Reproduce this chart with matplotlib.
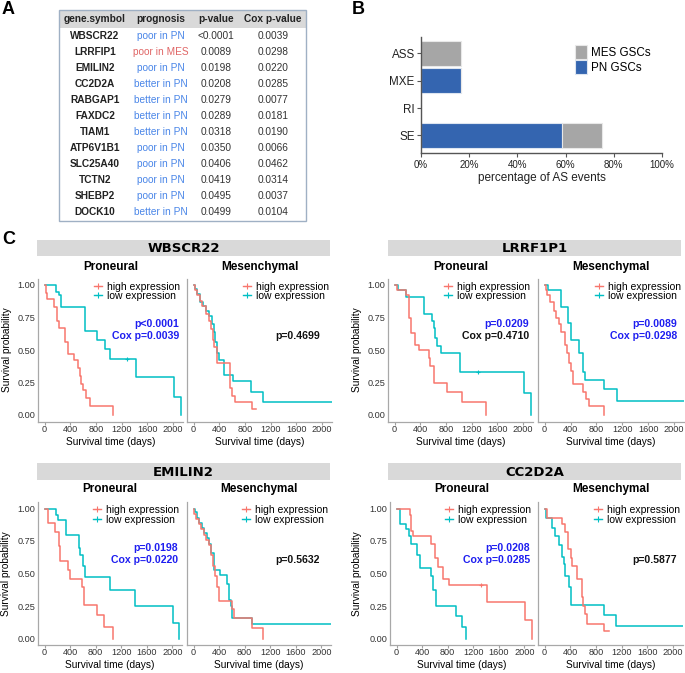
import matplotlib
matplotlib.use("Agg")
import matplotlib.pyplot as plt
from matplotlib.patches import Rectangle
from matplotlib.lines import Line2D
from matplotlib.ticker import PercentFormatter
import numpy as np

plt.rcParams['font.family'] = ['Liberation Sans', 'DejaVu Sans']

W, H = 685, 673

# ---------------- panel A : table
genes = ['WBSCR22', 'LRRFIP1', 'EMILIN2', 'CC2D2A', 'RABGAP1', 'FAXDC2', 'TIAM1',
         'ATP6V1B1', 'SLC25A40', 'TCTN2', 'SHEBP2', 'DOCK10']
prognosis = ['poor in PN', 'poor in MES', 'poor in PN', 'better in PN', 'better in PN',
             'better in PN', 'better in PN', 'poor in PN', 'poor in PN', 'poor in PN',
             'poor in PN', 'better in PN']
pvalues = ['<0.0001', '0.0089', '0.0198', '0.0208', '0.0279', '0.0289', '0.0318',
           '0.0350', '0.0406', '0.0419', '0.0495', '0.0499']
cox_pvalues = ['0.0039', '0.0298', '0.0220', '0.0285', '0.0077', '0.0181', '0.0190',
               '0.0066', '0.0462', '0.0314', '0.0037', '0.0104']
table_header = ['gene.symbol', 'prognosis', 'p-value', 'Cox p-value']

# ---------------- panel B : AS events (bottom to top)
as_types = ['SE', 'RI', 'MXE', 'ASS']
pn_pct = [58.3, 0, 16.7, 0]
mes_pct = [16.7, 0, 0, 16.7]

# ---------------- panel C : Kaplan-Meier steps (days, survival)
wbscr22_pn_high_t = [0, 15, 40, 140, 200, 230, 320, 360, 460, 520, 550, 570, 600, 650, 700, 1060]
wbscr22_pn_high_s = [1, .94, .89, .83, .72, .67, .56, .47, .42, .36, .30, .24, .19, .13, .07, 0]
wbscr22_pn_low_t = [0, 180, 222, 253, 630, 822, 940, 1018, 1416, 2010, 2120]
wbscr22_pn_low_s = [1, .95, .92, .83, .65, .58, .51, .43, .29, .14, 0]
wbscr22_mes_high_t = [0, 20, 50, 100, 130, 200, 235, 270, 295, 320, 360, 560, 595, 645, 905, 970]
wbscr22_mes_high_s = [1, .96, .92, .88, .84, .78, .72, .66, .58, .52, .40, .21, .15, .10, .05, .05]
wbscr22_mes_low_t = [0, 20, 50, 100, 140, 190, 240, 280, 310, 340, 370, 390, 475, 610, 890, 1085, 2150]
wbscr22_mes_low_s = [1, .97, .93, .87, .84, .80, .76, .70, .64, .56, .48, .42, .31, .26, .18, .10, .10]

lrrf1p1_pn_high_t = [0, 40, 180, 220, 255, 320, 385, 530, 555, 620, 815, 1055, 1415]
lrrf1p1_pn_high_s = [1, .96, .92, .75, .63, .54, .50, .44, .38, .25, .18, .10, 0]
lrrf1p1_pn_low_t = [0, 50, 180, 465, 575, 610, 630, 660, 720, 1020, 2010, 2115]
lrrf1p1_pn_low_s = [1, .96, .91, .78, .72, .67, .59, .53, .48, .33, .17, 0]
lrrf1p1_mes_high_t = [0, 15, 40, 90, 145, 170, 220, 250, 320, 350, 380, 410, 440, 595, 635, 680, 920]
lrrf1p1_mes_high_s = [1, .96, .92, .87, .80, .75, .70, .64, .54, .48, .40, .34, .24, .18, .12, .07, 0]
lrrf1p1_mes_low_t = [0, 50, 250, 365, 400, 530, 590, 620, 920, 1110, 2150]
lrrf1p1_mes_low_s = [1, .96, .83, .71, .58, .48, .33, .27, .20, .11, .11]

emilin2_pn_high_t = [0, 60, 165, 220, 245, 375, 400, 580, 620, 815, 930, 1075]
emilin2_pn_high_s = [1, .89, .82, .71, .60, .53, .46, .40, .26, .18, .09, 0]
emilin2_pn_low_t = [0, 180, 215, 340, 535, 560, 600, 635, 1020, 1410, 2010, 2110]
emilin2_pn_low_s = [1, .95, .91, .80, .70, .64, .56, .47, .37, .25, .12, 0]
emilin2_mes_high_t = [0, 15, 45, 80, 120, 160, 200, 240, 280, 310, 340, 360, 400, 610, 635, 915, 1085]
emilin2_mes_high_s = [1, .96, .92, .88, .84, .80, .76, .72, .64, .56, .48, .40, .29, .23, .16, .08, 0]
emilin2_mes_low_t = [0, 20, 50, 90, 130, 170, 210, 250, 280, 320, 410, 520, 550, 580, 610, 920, 2150]
emilin2_mes_low_s = [1, .97, .93, .89, .85, .81, .77, .73, .66, .53, .49, .42, .30, .25, .16, .11, .11]

cc2d2a_pn_high_t = [0, 205, 230, 260, 540, 610, 645, 720, 825, 1420, 2010, 2115]
cc2d2a_pn_high_s = [1, .95, .83, .79, .73, .62, .55, .46, .41, .28, .14, 0]
cc2d2a_pn_low_t = [0, 50, 155, 195, 230, 325, 360, 540, 575, 620, 930, 1030, 1080]
cc2d2a_pn_low_s = [1, .88, .84, .79, .73, .64, .54, .48, .37, .25, .17, .09, 0]
cc2d2a_mes_high_t = [0, 40, 265, 325, 370, 405, 430, 510, 575, 595, 625, 660, 920, 1000]
cc2d2a_mes_high_s = [1, .93, .88, .82, .69, .62, .56, .46, .32, .25, .19, .11, .06, .06]
cc2d2a_mes_low_t = [0, 30, 120, 170, 220, 265, 300, 325, 380, 405, 920, 1115, 2150]
cc2d2a_mes_low_s = [1, .93, .85, .79, .72, .63, .57, .48, .40, .26, .18, .10, .10]

# censored times that show a "+" mark
wbscr22_pn_low_cens = [1280]
lrrf1p1_pn_low_cens = [1300]
cc2d2a_pn_high_cens = [1330]

RED = '#F8766D'
CYAN = '#00BFC4'
PBLUE = '#1E1EF0'
PBLACK = '#111111'

fig = plt.figure(figsize=(W / 100, H / 100), dpi=100)


def fax(x0, y0, x1, y1):
    return fig.add_axes([x0 / W, 1 - y1 / H, (x1 - x0) / W, (y1 - y0) / H])


# overlay axes in pixel coordinates for table, strips and labels
ov = fig.add_axes([0, 0, 1, 1])
ov.set_xlim(0, W)
ov.set_ylim(H, 0)
ov.axis('off')
ov.patch.set_alpha(0)

# panel letters
for lab, x, y in [('A', 2, 1), ('B', 352, 1), ('C', 2, 231)]:
    ov.text(x, y, lab, fontsize=13, fontweight='bold', ha='left', va='top')

# ---------------- table
ov.add_patch(Rectangle((59, 11), 247, 17, facecolor='#d9d9d9', edgecolor='none'))
ov.add_patch(Rectangle((59, 10), 247, 211, facecolor='none', edgecolor='#9fb0c4', lw=1))
col_x = [95, 161, 216, 273]
for cx, hd in zip(col_x, table_header):
    ov.text(cx, 19.5, hd, fontsize=7.3, fontweight='bold', ha='center', va='center', color='#222222')
for i in range(len(genes)):
    y = 36 + i * 16
    pcol = '#E06666' if 'MES' in prognosis[i] else '#4A86E8'
    ov.text(col_x[0], y, genes[i], fontsize=7.3, fontweight='bold', ha='center', va='center', color='#222222')
    ov.text(col_x[1], y, prognosis[i], fontsize=7.3, ha='center', va='center', color=pcol)
    ov.text(col_x[2], y, pvalues[i], fontsize=7.3, ha='center', va='center', color='#333333')
    ov.text(col_x[3], y, cox_pvalues[i], fontsize=7.3, ha='center', va='center', color='#333333')

# ---------------- panel B
axb = fax(421, 37, 662, 153)
yy = np.arange(len(as_types))
axb.barh(yy, pn_pct, height=0.9, color='#3465B0', edgecolor='#dde5f0', lw=0.8, label='PN GSCs')
axb.barh(yy, mes_pct, left=pn_pct, height=0.9, color='#A6A6A6', edgecolor='#e8e8e8', lw=0.8,
         label='MES GSCs')
axb.set_xlim(0, 100)
axb.set_ylim(-0.64, 3.6)
axb.set_yticks(yy)
axb.set_yticklabels(as_types, fontsize=8.4)
axb.set_xticks(np.arange(0, 101, 20))
axb.xaxis.set_major_formatter(PercentFormatter(decimals=0))
axb.tick_params(axis='x', labelsize=7, length=3, pad=2, color='#555555', labelcolor='#222222')
axb.tick_params(axis='y', length=3, pad=1.5, color='#555555', labelcolor='#222222')
for sp in ['top', 'right']:
    axb.spines[sp].set_visible(False)
for sp in ['left', 'bottom']:
    axb.spines[sp].set_color('#555555')
    axb.spines[sp].set_linewidth(1)
axb.set_xlabel('percentage of AS events', fontsize=8.5, labelpad=1.5, color='#222222')
h, l = axb.get_legend_handles_labels()
axb.legend(h[::-1], l[::-1], loc='upper left', bbox_to_anchor=((575 - 421) / 241, 1 - 8 / 116),
           frameon=False, fontsize=8.4, handlelength=1.0, handleheight=1.5, labelspacing=0.05,
           handletextpad=0.4, borderpad=0, borderaxespad=0)

# ---------------- panel C


def km(ax, t, s, color, cens=()):
    ax.step(t, s, where='post', color=color, lw=1.1)
    if len(cens):
        idx = np.searchsorted(t, cens, side='right') - 1
        ax.plot(cens, np.array(s)[idx], '+', color=color, ms=3.5, mew=0.8)


blocks = [
    dict(gene='WBSCR22', left=(38, 183), right=(187, 332), yr=(278.5, 421.5), strip=(37, 330, 240, 256),
         sub_y=267, ylab_x=7,
         pn=(wbscr22_pn_high_t, wbscr22_pn_high_s, wbscr22_pn_low_t, wbscr22_pn_low_s, [], wbscr22_pn_low_cens),
         mes=(wbscr22_mes_high_t, wbscr22_mes_high_s, wbscr22_mes_low_t, wbscr22_mes_low_s, [], []),
         pn_txt=[('p<0.0001', PBLUE), ('Cox p=0.0039', PBLUE)], pn_x=0.972,
         mes_txt=[None, ('p=0.4699', PBLACK)], mes_x=0.92),
    dict(gene='LRRF1P1', left=(388, 533), right=(538, 684), yr=(278.5, 421.5), strip=(388, 681, 240, 256),
         sub_y=267, ylab_x=357,
         pn=(lrrf1p1_pn_high_t, lrrf1p1_pn_high_s, lrrf1p1_pn_low_t, lrrf1p1_pn_low_s, [], lrrf1p1_pn_low_cens),
         mes=(lrrf1p1_mes_high_t, lrrf1p1_mes_high_s, lrrf1p1_mes_low_t, lrrf1p1_mes_low_s, [], []),
         pn_txt=[('p=0.0209', PBLUE), ('Cox p=0.4710', PBLACK)], pn_x=0.972,
         mes_txt=[('p=0.0089', PBLUE), ('Cox p=0.0298', PBLUE)], mes_x=0.952),
    dict(gene='EMILIN2', left=(38, 182), right=(187, 331), yr=(502, 645), strip=(37, 330, 463, 480),
         sub_y=489, ylab_x=6,
         pn=(emilin2_pn_high_t, emilin2_pn_high_s, emilin2_pn_low_t, emilin2_pn_low_s, [], []),
         mes=(emilin2_mes_high_t, emilin2_mes_high_s, emilin2_mes_low_t, emilin2_mes_low_s, [], []),
         pn_txt=[('p=0.0198', PBLUE), ('Cox p=0.0220', PBLUE)], pn_x=0.972,
         mes_txt=[None, ('p=0.5632', PBLACK)], mes_x=0.92),
    dict(gene='CC2D2A', left=(390, 534), right=(538, 683), yr=(502, 645), strip=(388, 681, 463, 480),
         sub_y=489, ylab_x=357,
         pn=(cc2d2a_pn_high_t, cc2d2a_pn_high_s, cc2d2a_pn_low_t, cc2d2a_pn_low_s, cc2d2a_pn_high_cens, []),
         mes=(cc2d2a_mes_high_t, cc2d2a_mes_high_s, cc2d2a_mes_low_t, cc2d2a_mes_low_s, [], []),
         pn_txt=[('p=0.0208', PBLUE), ('Cox p=0.0285', PBLUE)], pn_x=0.972,
         mes_txt=[None, ('p=0.5877', PBLACK)], mes_x=0.96),
]

leg_handles = [Line2D([], [], color=RED, marker='+', lw=1, ms=4, mew=0.8),
               Line2D([], [], color=CYAN, marker='+', lw=1, ms=4, mew=0.8)]

for b in blocks:
    x0, x1, y0, y1 = b['strip']
    ov.add_patch(Rectangle((x0, y0), x1 - x0, y1 - y0, facecolor='#d9d9d9', edgecolor='none'))
    ov.text((x0 + x1) / 2, (y0 + y1) / 2 + 0.5, b['gene'], family='DejaVu Sans', fontweight='bold',
            fontsize=9.5, ha='center', va='center')
    ytop, ybot = b['yr']
    ov.text(b['ylab_x'], (ytop + ybot) / 2, 'Survival probability', rotation=90, fontsize=7.3,
            ha='center', va='center')
    for key, side, title, txt, tx in [('pn', 'left', 'Proneural', 'pn_txt', 'pn_x'),
                                      ('mes', 'right', 'Mesenchymal', 'mes_txt', 'mes_x')]:
        ax0, ax1 = b[side]
        ax = fax(ax0, ytop, ax1, ybot)
        ht, hs, lt, ls, hc, lc = b[key]
        km(ax, lt, ls, CYAN, lc)
        km(ax, ht, hs, RED, hc)
        ax.set_xlim(-102, 2152)
        ax.set_ylim(-0.05, 1.05)
        ax.set_xticks(np.arange(0, 2001, 400))
        ax.set_yticks([0, 0.25, 0.5, 0.75, 1.0])
        if side == 'left':
            ax.set_yticklabels(['0.00', '0.25', '0.50', '0.75', '1.00'])
        else:
            ax.set_yticklabels([])
        ax.tick_params(axis='x', labelsize=6.6, length=1.8, pad=0.6, color='#a0a0a0', labelcolor='#333333')
        ax.tick_params(axis='y', labelsize=6.6, length=0, pad=2, labelcolor='#333333')
        for sp in ['top', 'right']:
            ax.spines[sp].set_visible(False)
        for sp in ['left', 'bottom']:
            ax.spines[sp].set_color('#a8a8a8')
            ax.spines[sp].set_linewidth(0.9)
        ax.legend(leg_handles, ['high expression', 'low expression'], loc='upper right',
                  bbox_to_anchor=(1.0, 1.0), frameon=False, fontsize=7.5, handlelength=0.8,
                  handletextpad=0.45, labelspacing=-0.05, borderpad=0.2, borderaxespad=0.1)
        for k, item in enumerate(b[txt]):
            if item is None:
                continue
            ax.text(b[tx], [0.68, 0.597][k], item[0], transform=ax.transAxes, ha='right', va='center',
                    fontsize=7.6, fontweight='bold', color=item[1])
        cx = (ax0 + ax1) / 2
        ov.text(cx, b['sub_y'], title, fontsize=8.5, fontweight='bold', ha='center', va='center')
        ov.text(cx, ybot + 20.5, 'Survival time (days)', fontsize=7.3, ha='center', va='center')

fig.savefig('out.png', dpi=100)
